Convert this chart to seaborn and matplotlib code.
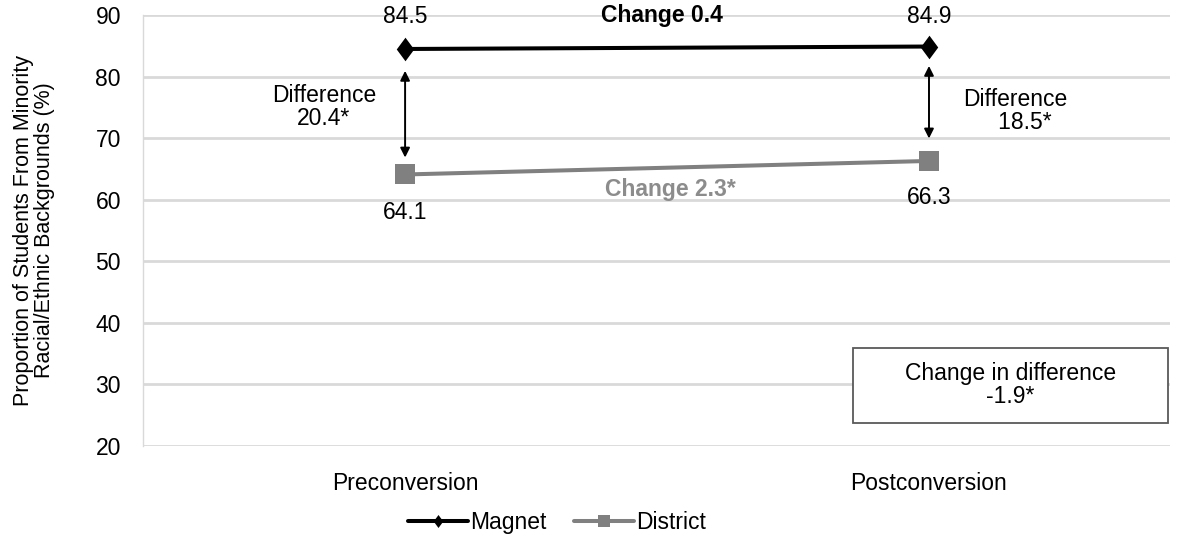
import pandas as pd
import matplotlib.pyplot as plt
from matplotlib.patches import Rectangle
import seaborn as sns

# Datos del gráfico
periodos = ['Preconversion', 'Postconversion']
magnet = [84.5, 84.9]
district = [64.1, 66.3]
diferencias = ['20.4*', '18.5*']
cambio_magnet = '0.4'
cambio_district = '2.3*'
cambio_diferencia = '-1.9*'

sns.set_theme(style="white")
plt.rcParams['font.family'] = ['Liberation Sans', 'DejaVu Sans']
plt.rcParams['text.color'] = 'black'
plt.rcParams['axes.labelcolor'] = 'black'

df = pd.DataFrame({
    'Periodo': periodos * 2,
    'Valor': magnet + district,
    'Grupo': ['Magnet'] * 2 + ['District'] * 2,
})

fig = plt.figure(figsize=(11.83, 5.41), dpi=100)
ax = fig.add_axes([0.121, 0.176, 0.868, 0.796])

FS = 16.5
diamante = [(0, 1), (0.74, 0), (0, -1), (-0.74, 0), (0, 1)]
colores = {'Magnet': 'black', 'District': '#808080'}
marcadores = {'Magnet': diamante, 'District': 's'}
tamanos = {'Magnet': 17, 'District': 14.5}
for grupo in ['Magnet', 'District']:
    sub = df[df['Grupo'] == grupo]
    sns.lineplot(data=sub, x='Periodo', y='Valor', ax=ax, color=colores[grupo],
                 marker=marcadores[grupo], markersize=tamanos[grupo],
                 markeredgewidth=0, linewidth=2.9, label=grupo, sort=False)

ax.set_xlim(-0.5, 1.46)
ax.set_ylim(20, 90)
ax.set_yticks(range(20, 91, 10))
ax.yaxis.grid(True, color='#d9d9d9', linewidth=2)
ax.set_axisbelow(True)
for lado in ['top', 'right', 'bottom']:
    ax.spines[lado].set_visible(False)
ax.spines['left'].set_color('#d9d9d9')
ax.spines['left'].set_linewidth(1)
ax.tick_params(axis='both', length=0, labelsize=FS, colors='black')
ax.tick_params(axis='y', pad=16)
ax.tick_params(axis='x', pad=19)
ax.set_xlabel('')
ax.set_ylabel('Proportion of Students From Minority\nRacial/Ethnic Backgrounds (%)', fontsize=15.5,
              linespacing=1.0)
ax.yaxis.set_label_coords(-0.086, 0.5)

# Etiquetas de valores
ax.text(0, 89.7, f'{magnet[0]}', ha='center', va='center', fontsize=FS)
ax.text(1, 89.7, f'{magnet[1]}', ha='center', va='center', fontsize=FS)
ax.text(0, 58.0, f'{district[0]}', ha='center', va='center', fontsize=FS)
ax.text(1, 60.4, f'{district[1]}', ha='center', va='center', fontsize=FS)

# Flechas de diferencia
ax.annotate('', xy=(0, 66.4), xytext=(0, 81.4),
            arrowprops=dict(arrowstyle='<|-|>', color='black', lw=1.4, mutation_scale=14))
ax.annotate('', xy=(1, 69.5), xytext=(1, 82.2),
            arrowprops=dict(arrowstyle='<|-|>', color='black', lw=1.4, mutation_scale=14))

ax.text(-0.155, 75.0, f'Difference\n{diferencias[0]}', ha='center', va='center', fontsize=FS, linespacing=1.0)
ax.text(1.165, 74.4, f'Difference\n   {diferencias[1]}', ha='center', va='center', fontsize=FS, linespacing=1.0)

ax.text(0.49, 90.0, f'Change {cambio_magnet}', ha='center', va='center', fontsize=FS, fontweight='bold')
ax.text(0.507, 61.6, f'Change {cambio_district}', ha='center', va='center', fontsize=FS,
        fontweight='bold', color='#8c8c8c')

# Recuadro con el cambio en la diferencia
ax.add_patch(Rectangle((0.855, 23.7), 0.601, 12.2, facecolor='white', edgecolor='#595959',
                       linewidth=1.3, zorder=3))
ax.text(1.155, 29.9, f'Change in difference\n{cambio_diferencia}', ha='center', va='center',
        fontsize=FS, linespacing=1.0, zorder=4)

ax.legend(loc='center', bbox_to_anchor=(0.403, -0.179), ncol=2, frameon=False, fontsize=FS,
          handlelength=2.6, handletextpad=0.1, columnspacing=1.2, markerscale=0.55)

fig.savefig('out.png', dpi=100)
